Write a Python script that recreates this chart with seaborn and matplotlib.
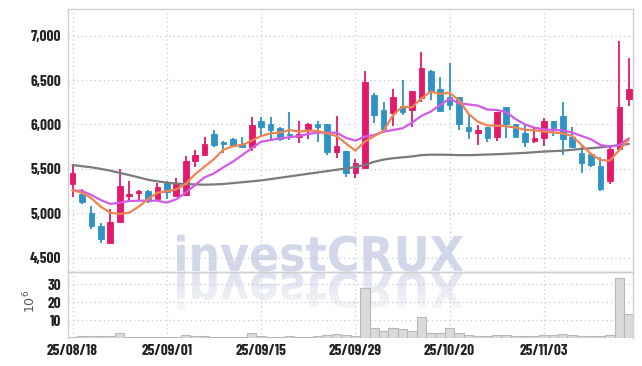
import matplotlib
matplotlib.use('Agg')
import matplotlib.pyplot as plt
from matplotlib.patches import PathPatch
from matplotlib.textpath import TextPath
from matplotlib.font_manager import FontProperties
from matplotlib.transforms import Affine2D
import numpy as np
import pandas as pd
import seaborn as sns

# daily prices
opens = [5333, 5217, 5000, 4857, 4662, 4902, 5194, 5225, 5251, 5158,
         5345, 5198, 5203, 5585, 5653, 5892, 5800, 5836, 5780, 5750,
         6038, 6005, 5957, 5896, 5862, 5949, 6005, 6005, 5694, 5702,
         5450, 5513, 6332, 6163, 6126, 6208, 6163, 6302, 6602, 6395,
         6312, 6305, 5975, 5900, 5968, 5855, 6193, 6005, 5900, 5818,
         5843, 6043, 6096, 5863, 5676, 5668, 5533, 5364, 5720, 6283]
highs = [5544, 5270, 5082, 4894, 5045, 5495, 5367, 5262, 5262, 5338,
         5360, 5394, 5645, 5713, 5862, 5938, 5818, 5844, 5855, 6088,
         6080, 6080, 5975, 6136, 6043, 6020, 6043, 6005, 6099, 5702,
         5608, 6602, 6351, 6249, 6395, 6500, 6377, 6820, 6613, 6537,
         6695, 6305, 6107, 5990, 5968, 6144, 6193, 6005, 5994, 5957,
         6070, 6043, 6256, 5975, 5758, 5668, 5637, 5750, 6944, 6744]
lows = [5180, 5101, 4827, 4669, 4660, 4900, 5142, 5142, 5118, 5158,
        5164, 5198, 5203, 5525, 5653, 5743, 5682, 5743, 5732, 5705,
        5855, 5818, 5814, 5825, 5787, 5833, 5806, 5656, 5619, 5405,
        5400, 5513, 6020, 5919, 5982, 6107, 5970, 6257, 6276, 6152,
        6163, 5938, 5833, 5769, 5806, 5810, 5845, 5855, 5750, 5795,
        5758, 5870, 5656, 5743, 5450, 5525, 5255, 5330, 5720, 6208]
closes = [5457, 5131, 4857, 4707, 4902, 5307, 5217, 5251, 5142, 5296,
          5240, 5338, 5589, 5660, 5780, 5769, 5784, 5758, 5750, 5994,
          5975, 5938, 5833, 5885, 5892, 6005, 5975, 5694, 5758, 5450,
          5563, 6475, 6107, 5949, 6305, 6144, 6377, 6632, 6369, 6152,
          6219, 6005, 5930, 5938, 5851, 6144, 6002, 5863, 5806, 5851,
          6043, 5964, 5833, 5750, 5570, 5544, 5274, 5724, 6193, 6395]

# moving average lines as drawn
ma_short = [5259, 5232, 5169, 5074, 5007, 4992, 5007, 5074, 5158, 5232,
            5248, 5270, 5330, 5440, 5525, 5610, 5715, 5755, 5769, 5818,
            5870, 5900, 5908, 5938, 5919, 5930, 5927, 5900, 5870, 5787,
            5705, 5806, 5870, 5930, 6107, 6200, 6193, 6294, 6369, 6345,
            6355, 6272, 6120, 6030, 5990, 5985, 5980, 5965, 5940, 5935,
            5920, 5910, 5900, 5870, 5769, 5668, 5600, 5592, 5713, 5833]
ma_mid = [5259, 5251, 5206, 5150, 5105, 5120, 5139, 5142, 5142, 5142,
          5120, 5158, 5232, 5319, 5405, 5450, 5518, 5581, 5656, 5732,
          5806, 5825, 5844, 5855, 5870, 5893, 5908, 5908, 5908, 5850,
          5818, 5863, 5882, 5919, 5938, 5957, 6020, 6096, 6145, 6220,
          6290, 6238, 6225, 6212, 6168, 6163, 6140, 6060, 6000, 5964,
          5945, 5938, 5935, 5908, 5870, 5833, 5769, 5750, 5769, 5844]
ma_long = [5544, 5530, 5518, 5500, 5480, 5455, 5431, 5405, 5378, 5360,
           5345, 5335, 5330, 5325, 5322, 5325, 5330, 5340, 5350, 5360,
           5370, 5385, 5400, 5415, 5430, 5445, 5460, 5475, 5490, 5505,
           5520, 5545, 5580, 5605, 5620, 5630, 5640, 5655, 5660, 5660,
           5658, 5655, 5655, 5658, 5662, 5665, 5670, 5675, 5680, 5688,
           5695, 5700, 5705, 5715, 5725, 5733, 5742, 5755, 5765, 5780]

# volume in millions
volume = [0.3, 0.9, 1.0, 1.0, 1.1, 2.6, 0.6, 0.5, 0.3, 0.4,
          0.3, 0.8, 1.9, 1.3, 1.2, 0.8, 0.7, 0.8, 0.5, 2.6,
          1.0, 0.8, 0.5, 1.0, 0.5, 0.8, 1.0, 1.6, 2.1, 1.6,
          1.2, 28.0, 5.6, 3.7, 5.6, 5.1, 4.2, 11.9, 2.8, 2.8,
          5.6, 2.8, 1.6, 1.2, 1.2, 1.6, 1.6, 1.0, 1.0, 1.0,
          1.6, 1.6, 2.2, 1.6, 1.0, 1.0, 1.0, 1.6, 33.5, 13.6]

holidays = ['2025-10-03', '2025-10-06', '2025-10-07', '2025-10-08', '2025-10-09']
dates = pd.bdate_range('2025-08-18', '2025-11-14', freq='C', holidays=holidays)
price_ticks = [4500, 5000, 5500, 6000, 6500, 7000]
vol_ticks = [10, 20, 30]

df = pd.DataFrame({'open': opens, 'high': highs, 'low': lows, 'close': closes,
                   'ma_short': ma_short, 'ma_mid': ma_mid, 'ma_long': ma_long,
                   'volume': volume})
df['idx'] = np.arange(len(df))

UP = '#e3196b'
DOWN = '#2f93c5'
GRID = '#c6cade'
SPINE = '#d0d0d0'
TXT = '#222222'

sns.set_theme(style='white')
plt.rcParams['font.family'] = ['Barlow Condensed', 'PT Sans Narrow', 'DejaVu Sans']

fig = plt.figure(figsize=(6.42, 3.66), dpi=100)

# watermark layer in pixel coordinates
wm = fig.add_axes([0, 0, 1, 1], zorder=0)
wm.set_xlim(0, 642)
wm.set_ylim(366, 0)
wm.axis('off')
tp = TextPath((0, 0), 'investCRUX', size=50,
              prop=FontProperties(family='DejaVu Sans', weight='bold'))
ext = tp.get_extents()
sx = 286 / ext.width
sy = 37 / ext.height
x0, base = 177, 271
main_tr = Affine2D().translate(-ext.x0, 0).scale(sx, -sy).translate(x0, base) + wm.transData
refl_tr = Affine2D().translate(-ext.x0, 0).scale(sx, sy).translate(x0, base + 2) + wm.transData
wm.add_patch(PathPatch(tp, transform=main_tr, facecolor='#d2d7ea', edgecolor='none'))
refl = PathPatch(tp, transform=refl_tr, facecolor='none', edgecolor='none')
wm.add_patch(refl)
grad = np.zeros((60, 2, 4))
grad[..., 0] = 0.82
grad[..., 1] = 0.84
grad[..., 2] = 0.92
grad[..., 3] = np.linspace(0.75, 0.15, 60)[:, None]
im = wm.imshow(grad, extent=[170, 470, base + 42, base], aspect='auto', interpolation='bilinear')
im.set_clip_path(refl)

ax = fig.add_axes([0.1064, 0.2568, 0.8796, 0.7186], zorder=1)
axv = fig.add_axes([0.1064, 0.0765, 0.8796, 0.1803], zorder=1, sharex=ax)
for a in (ax, axv):
    a.set_facecolor('none')

# candles
cols = [UP if c >= o else DOWN for o, c in zip(df['open'], df['close'])]
ax.vlines(df['idx'], df['low'], df['high'], colors=cols, lw=1.3, zorder=2)
body = np.maximum((df['close'] - df['open']).abs(), 12)
ax.bar(df['idx'], body, bottom=np.minimum(df['open'], df['close']), width=0.6,
       color=cols, edgecolor=cols, linewidth=0.6, zorder=3)

sns.lineplot(data=df, x='idx', y='ma_long', ax=ax, color='#7b7b7b', lw=1.6, zorder=4)
sns.lineplot(data=df, x='idx', y='ma_mid', ax=ax, color='#d35ae8', lw=1.6, zorder=4)
sns.lineplot(data=df, x='idx', y='ma_short', ax=ax, color='#ef8450', lw=1.6, zorder=4)

sns.barplot(data=df, x='idx', y='volume', ax=axv, native_scale=True, width=1.0,
            color='#dadada', edgecolor='#b8b8b8', linewidth=0.8, saturation=1, zorder=2)

tick_idx = list(range(0, len(dates), 10))
tick_lab = [dates[i].strftime('%y/%m/%d') for i in tick_idx]

ax.set_xlim(-0.45, len(df) - 0.55)
ax.set_ylim(4339, 7300)
ax.set_yticks(price_ticks)
ax.set_yticklabels([f'{v:,}' for v in price_ticks])
ax.set_xticks(tick_idx)
ax.tick_params(axis='x', labelbottom=False)
axv.set_ylim(0, 37)
axv.set_yticks(vol_ticks)
axv.set_xticks(tick_idx)
axv.set_xticklabels(tick_lab)

for a in (ax, axv):
    a.set_xlabel('')
    a.set_ylabel('')
    a.grid(True, color=GRID, linestyle=(0, (1, 2.5)), lw=0.9)
    a.set_axisbelow(True)
    a.tick_params(length=0, pad=5, labelsize=11, labelcolor=TXT)
    for lab in a.get_xticklabels() + a.get_yticklabels():
        lab.set_fontweight('bold')
    for s in a.spines.values():
        s.set_color(SPINE)
        s.set_linewidth(1.0)
axv.spines['bottom'].set_visible(False)
axv.tick_params(axis='x', pad=4)

axv.set_ylabel(r'$10^6$', fontsize=9, color='#555555', family='DejaVu Sans')
axv.yaxis.set_label_coords(-0.053, 0.55)

fig.savefig('out.png', dpi=100)
